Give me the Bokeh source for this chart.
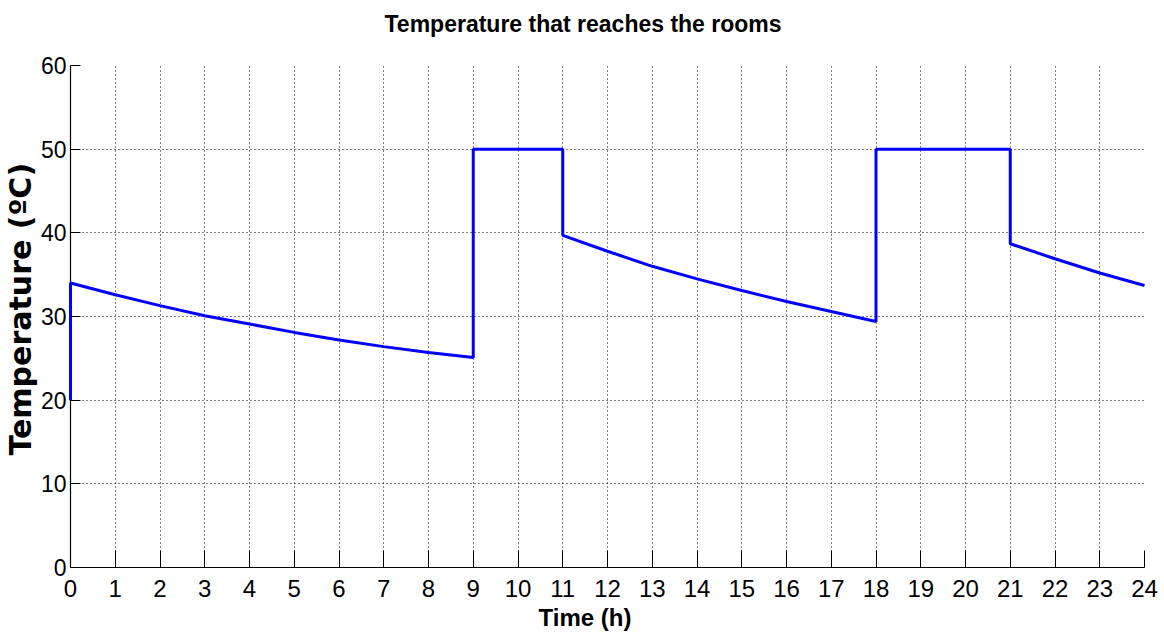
from bokeh.plotting import figure
from bokeh.models import Range1d, FixedTicker, Title
from bokeh.embed import file_html
from bokeh.resources import INLINE

# Data
hours = [0, 0, 1, 2, 3, 4, 5, 6, 7, 8, 9,
         9, 10, 11,
         11, 12, 13, 14, 15, 16, 17, 18,
         18, 19, 20, 21,
         21, 22, 23, 24]
temps = [20.0, 34.0, 32.6, 31.3, 30.1, 29.1, 28.1, 27.2, 26.4, 25.7, 25.1,
         50.0, 50.0, 50.0,
         39.7, 37.8, 36.0, 34.5, 33.1, 31.8, 30.6, 29.4,
         50.0, 50.0, 50.0, 50.0,
         38.7, 36.9, 35.2, 33.7]
x_ticks = list(range(0, 25))
y_ticks = [0, 10, 20, 30, 40, 50, 60]

title_text = "Temperature that reaches the rooms"
x_label = "Time (h)"
y_label = "Temperature (ºC)"

SANS = "'Liberation Sans', Arial, sans-serif"
WIDE_BOLD = "'DejaVu Sans', sans-serif"

p = figure(width=1160, height=640,
           x_range=Range1d(0, 24), y_range=Range1d(0, 60),
           output_backend="svg", toolbar_location=None,
           min_border_left=70, min_border_right=16,
           min_border_top=65, min_border_bottom=73)

p.outline_line_color = None
p.background_fill_color = "white"
p.border_fill_color = "white"

# Title: a blank spacer next to the frame, then the title text above it
p.title.text = ""
p.title.standoff = 0
spacer = Title(text=" ", align="left", standoff=11,
               text_font=SANS, text_font_size="12px")
p.add_layout(spacer, "above")
main_title = Title(text=title_text, align="left", offset=314, standoff=4,
                   text_font=SANS, text_font_size="23px",
                   text_font_style="bold", text_color="black")
p.add_layout(main_title, "above")

# X axis
p.xaxis.ticker = FixedTicker(ticks=x_ticks)
p.xaxis.major_tick_in = 17
p.xaxis.major_tick_out = 0
p.xaxis.minor_tick_line_color = None
p.xaxis.axis_line_color = "black"
p.xaxis.axis_line_width = 1.2
p.xaxis.major_tick_line_color = "black"
p.xaxis.major_label_text_font = SANS
p.xaxis.major_label_text_font_size = "24px"
p.xaxis.major_label_text_color = "black"
p.xaxis.major_label_standoff = 12

# X label as a title below, for positioning
xt = Title(text=x_label, align="left", offset=468, standoff=5,
           text_font=SANS, text_font_size="24px", text_font_style="bold",
           text_color="black")
p.add_layout(xt, "below")

# Y axis
p.yaxis.ticker = FixedTicker(ticks=y_ticks)
p.yaxis.major_tick_in = 10
p.yaxis.major_tick_out = 0
p.yaxis.minor_tick_line_color = None
p.yaxis.axis_line_color = "black"
p.yaxis.axis_line_width = 1.2
p.yaxis.major_tick_line_color = "black"
p.yaxis.major_label_text_font = SANS
p.yaxis.major_label_text_font_size = "23px"
p.yaxis.major_label_text_color = "black"
p.yaxis.major_label_standoff = 4

# Y label as a title on the left, for positioning
yt = Title(text=y_label, align="left", offset=112, standoff=0,
           text_font=WIDE_BOLD, text_font_size="30px", text_font_style="bold",
           text_color="black")
p.add_layout(yt, "left")

# Grid
for g in (p.xgrid, p.ygrid):
    g.grid_line_color = "black"
    g.grid_line_dash = "1 3"
    g.grid_line_width = 1
    g.grid_line_alpha = 1.0

p.line(hours, temps, line_color="#0000ff", line_width=3, level="overlay")

open("out.html", "w").write(file_html(p, INLINE))
